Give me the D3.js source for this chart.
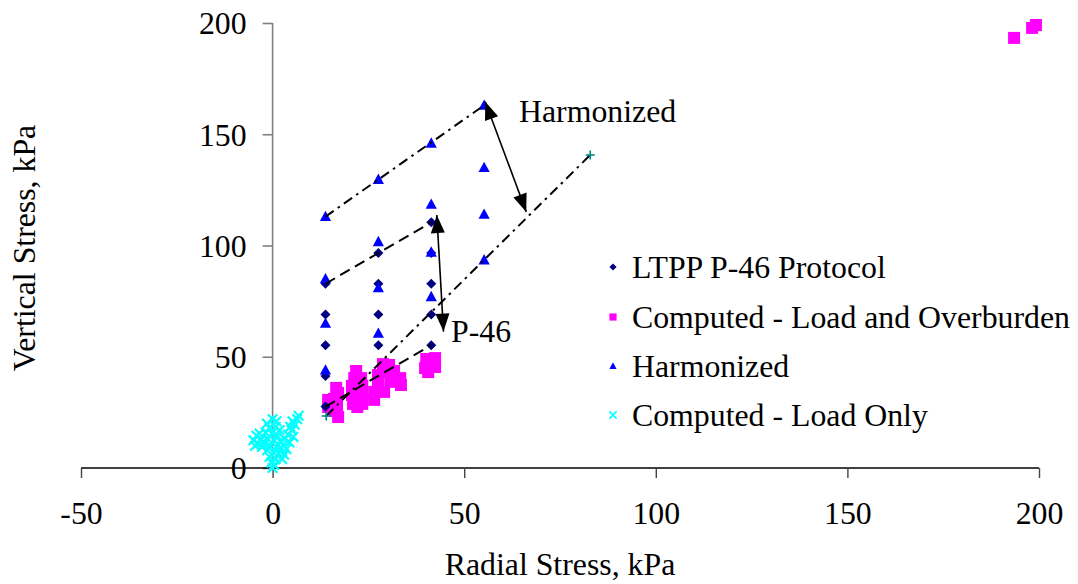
<!DOCTYPE html>
<html>
<head>
<meta charset="utf-8">
<script src="https://cdn.jsdelivr.net/npm/d3@7"></script>
<style>
  body { margin: 0; background: #fff; }
  svg { display: block; }
  text { font-family: "Liberation Serif", "Times New Roman", serif; fill: #000; }
</style>
</head>
<body>
<svg id="chart" width="1078" height="584"></svg>
<script>
// ---- axis ticks ----
const xTicks = [-50, 0, 50, 100, 150, 200];
const yTicks = [0, 50, 100, 150, 200];

// ---- LTPP P-46 protocol stress states (radial, vertical) kPa ----
const p46Radial   = [13.8, 13.8, 13.8, 13.8, 13.8, 27.6, 27.6, 27.6, 27.6, 41.4, 41.4, 41.4, 41.4, 41.4];
const p46Vertical = [27.6, 41.4, 55.2, 69.0, 82.8, 55.2, 69.0, 82.8, 96.6, 55.2, 69.0, 82.8, 96.6, 110.4];

// ---- Harmonized protocol stress states ----
const harmRadial   = [13.8, 13.8, 13.8, 13.8, 27.6, 27.6, 27.6, 27.6, 41.4, 41.4, 41.4, 41.4, 55.2, 55.2, 55.2, 55.2];
const harmVertical = [44.0, 65.0, 85.0, 113.0, 60.5, 81.0, 101.7, 129.7, 77.0, 97.0, 118.5, 146.0, 93.5, 114.0, 135.0, 163.0];

// ---- Computed stresses, load and overburden ----
const loadOverRadial = [16.6, 17.1, 14.5, 16.0, 16.8, 14.5, 16.3, 17.1,
                        21.8, 21.3, 23.1, 20.7, 23.4, 20.7, 23.4, 21.0, 23.4, 22.1,
                        28.8, 30.4, 27.5, 29.6, 31.7, 33.3, 33.5, 27.5, 30.7, 26.5, 29.1, 26.5, 31.7,
                        40.1, 42.4, 39.8, 42.4, 40.6,
                        193.5, 198.2, 199.2];
const loadOverVertical = [36.0, 33.7, 30.6, 31.0, 28.3, 27.4, 25.6, 22.9,
                          43.6, 40.4, 40.4, 36.9, 36.9, 32.8, 32.8, 28.8, 28.8, 27.4,
                          46.7, 46.3, 41.8, 43.1, 43.6, 40.4, 37.3, 37.3, 38.7, 34.2, 34.2, 30.6, 39.6,
                          49.0, 49.4, 44.9, 45.4, 43.1,
                          193.3, 197.8, 199.1];

// ---- Computed stresses, load only ----
const loadOnlyRadial = [-1.5, 0, 1, -0.8, 0.8, 1.8, -1.8, -0.2, 1.2, -1.2, 0.4, 2, -2, -0.6, 1, 2.2, -1.4, 0.2, 1.6, -0.8, 0.8, -0.3, 0.4, 0,
                        -5, -4.2, -3.8, -3, -2.8, -4.6, -3.4, -2.6,
                        2.8, 3.2, 3.6, 4, 4.4, 5, 5.4, 5.8, 6.4, 5.2, 6.8, 4.6, 3, 2.5];
const loadOnlyVertical = [20, 22, 21, 18, 18.5, 17, 16, 15.5, 14.5, 13, 12.5, 12, 11, 10, 9.5, 9, 8, 7, 6.5, 5, 4, 2.5, 1.5, 0,
                          12.5, 14.5, 11, 13, 9.5, 10, 15.5, 11.5,
                          10.5, 13, 8.5, 15, 11.5, 17, 14, 19.5, 22, 21, 23.5, 18.5, 6, 4];

// ---- guide lines ----
const harmTopRadial = [13.8, 55.2],  harmTopVertical = [113.0, 163.0];
const p46TopRadial  = [13.8, 41.4],  p46TopVertical  = [82.8, 110.4];
const p46LowRadial  = [13.8, 41.4],  p46LowVertical  = [27.6, 55.2];
const refRadial     = [14.0, 82.9],  refVertical     = [23.4, 140.7];

// ---- annotation arrows (double headed) ----
const harmArrowRadial = [55.5, 66.2], harmArrowVertical = [164.6, 115.1];
const p46ArrowRadial  = [42.85, 44.6], p46ArrowVertical = [113.7, 61.3];
const harmLabel = "Harmonized", p46Label = "P-46";

const legendNames = ["LTPP P-46 Protocol", "Computed - Load and Overburden", "Harmonized", "Computed - Load Only"];

const xTitle = "Radial Stress, kPa";
const yTitle = "Vertical Stress, kPa";

// ------------------------------------------------------------------
const svg = d3.select("#chart");
const FS = 31.8;

const x = d3.scaleLinear().domain([-50, 200]).range([81, 1039]);
const y = d3.scaleLinear().domain([0, 200]).range([468, 23]);

const zip = (a, b) => a.map((v, i) => [v, b[i]]);

// marker shapes
const shapes = {
  diamond: r => `M0,${-r}L${r},0L0,${r}L${-r},0Z`,
  square:  r => `M${-r},${-r}H${r}V${r}H${-r}Z`,
  triangle: r => `M0,${-r * 1.05}L${r},${r * 0.8}L${-r},${r * 0.8}Z`,
  ex: r => `M${-r},${-r}L${r},${r}M${-r},${r}L${r},${-r}`,
  plus: r => `M${-r},0H${r}M0,${-r}V${r}`
};

// y axis
const yAxis = svg.append("g").attr("transform", `translate(${x(0)},0)`)
  .call(d3.axisLeft(y).tickValues(yTicks).tickSize(10).tickPadding(16).tickFormat(d => String(d)));
yAxis.select(".domain").attr("d", `M0,${y(200)}V${y(0)}`)
  .attr("stroke", "#808080").attr("stroke-width", 1.6);
yAxis.selectAll(".tick line").attr("stroke", "#808080").attr("stroke-width", 1.6);
yAxis.selectAll(".tick text").style("font-size", FS + "px").attr("font-family", null)
  .attr("dy", "0.34em");

// x axis
const xAxis = svg.append("g").attr("transform", `translate(0,${y(0)})`)
  .call(d3.axisBottom(x).tickValues(xTicks).tickSize(10).tickPadding(30).tickFormat(d => String(d)));
xAxis.select(".domain").attr("d", `M${x(-50)},0H${x(200)}`)
  .attr("stroke", "#000").attr("stroke-width", 1.6);
xAxis.selectAll(".tick line").attr("stroke", "#444").attr("stroke-width", 1.4);
xAxis.selectAll(".tick text").style("font-size", FS + "px").attr("font-family", null).attr("dy", "0.5em");

// axis titles
svg.append("text").attr("x", 560).attr("y", 575).attr("text-anchor", "middle")
  .style("font-size", FS + "px").text(xTitle);
svg.append("text").attr("transform", "translate(35,248) rotate(-90)").attr("text-anchor", "middle")
  .style("font-size", FS + "px").text(yTitle);

// data markers
function drawMarkers(pts, shape, r, color, stroked, sw) {
  svg.append("g").selectAll("path").data(pts).join("path")
    .attr("transform", d => `translate(${x(d[0])},${y(d[1])})`)
    .attr("d", shapes[shape](r))
    .attr("fill", stroked ? "none" : color)
    .attr("stroke", stroked ? color : "none")
    .attr("stroke-width", sw || 0);
}

drawMarkers(zip(loadOnlyRadial, loadOnlyVertical), "ex", 4.8, "#00FFFF", true, 2.2);
drawMarkers(zip(loadOverRadial, loadOverVertical), "square", 6, "#FF00FF", false);
drawMarkers(zip(p46Radial, p46Vertical), "diamond", 5, "#000080", false);
drawMarkers(zip(harmRadial, harmVertical), "triangle", 5.6, "#0000FF", false);

// guide lines
const line = d3.line().x(d => x(d[0])).y(d => y(d[1]));
function guide(rad, ver, dash) {
  svg.append("path").datum(zip(rad, ver)).attr("d", line)
    .attr("fill", "none").attr("stroke", "#000").attr("stroke-width", 2)
    .attr("stroke-dasharray", dash);
}
const dashDot = "10,5,2.5,5";
guide(harmTopRadial, harmTopVertical, dashDot);
guide(p46TopRadial, p46TopVertical, "11,6");
guide(p46LowRadial, p46LowVertical, "11,6");
guide(refRadial, refVertical, dashDot);
drawMarkers(zip(refRadial, refVertical), "plus", 4.5, "#008080", true, 1.6);

// double-headed arrows
function arrowHead(p, q, len, hw) {
  // head at p, pointing away from q
  const dx = p[0] - q[0], dy = p[1] - q[1], L = Math.hypot(dx, dy);
  const ux = dx / L, uy = dy / L;
  const bx = p[0] - ux * len, by = p[1] - uy * len;
  return `M${p[0]},${p[1]}L${bx - uy * hw},${by + ux * hw}L${bx + uy * hw},${by - ux * hw}Z`;
}
function arrow(rad, ver) {
  const a = [x(rad[0]), y(ver[0])], b = [x(rad[1]), y(ver[1])];
  svg.append("line").attr("x1", a[0]).attr("y1", a[1]).attr("x2", b[0]).attr("y2", b[1])
    .attr("stroke", "#000").attr("stroke-width", 1.6);
  svg.append("path").attr("d", arrowHead(a, b, 18, 7)).attr("fill", "#000");
  svg.append("path").attr("d", arrowHead(b, a, 18, 7)).attr("fill", "#000");
}
arrow(harmArrowRadial, harmArrowVertical);
arrow(p46ArrowRadial, p46ArrowVertical);

svg.append("text").attr("x", 519).attr("y", 122).style("font-size", FS + "px").text(harmLabel);
svg.append("text").attr("x", 451).attr("y", 342).style("font-size", FS + "px").text(p46Label);

// legend
const legendShapes = [["diamond", "#000080", false], ["square", "#FF00FF", false], ["triangle", "#0000FF", false], ["ex", "#00FFFF", true]];
const legendRows = [267, 317, 366, 415];
const lg = svg.append("g");
legendNames.forEach((name, i) => {
  const [shape, color, stroked] = legendShapes[i];
  lg.append("path").attr("transform", `translate(613,${legendRows[i]})`)
    .attr("d", shapes[shape](3.6))
    .attr("fill", stroked ? "none" : color)
    .attr("stroke", stroked ? color : "none").attr("stroke-width", stroked ? 1.6 : 0);
  lg.append("text").attr("x", 632).attr("y", legendRows[i] + 10.5)
    .style("font-size", FS + "px").text(name);
});
</script>
</body>
</html>
